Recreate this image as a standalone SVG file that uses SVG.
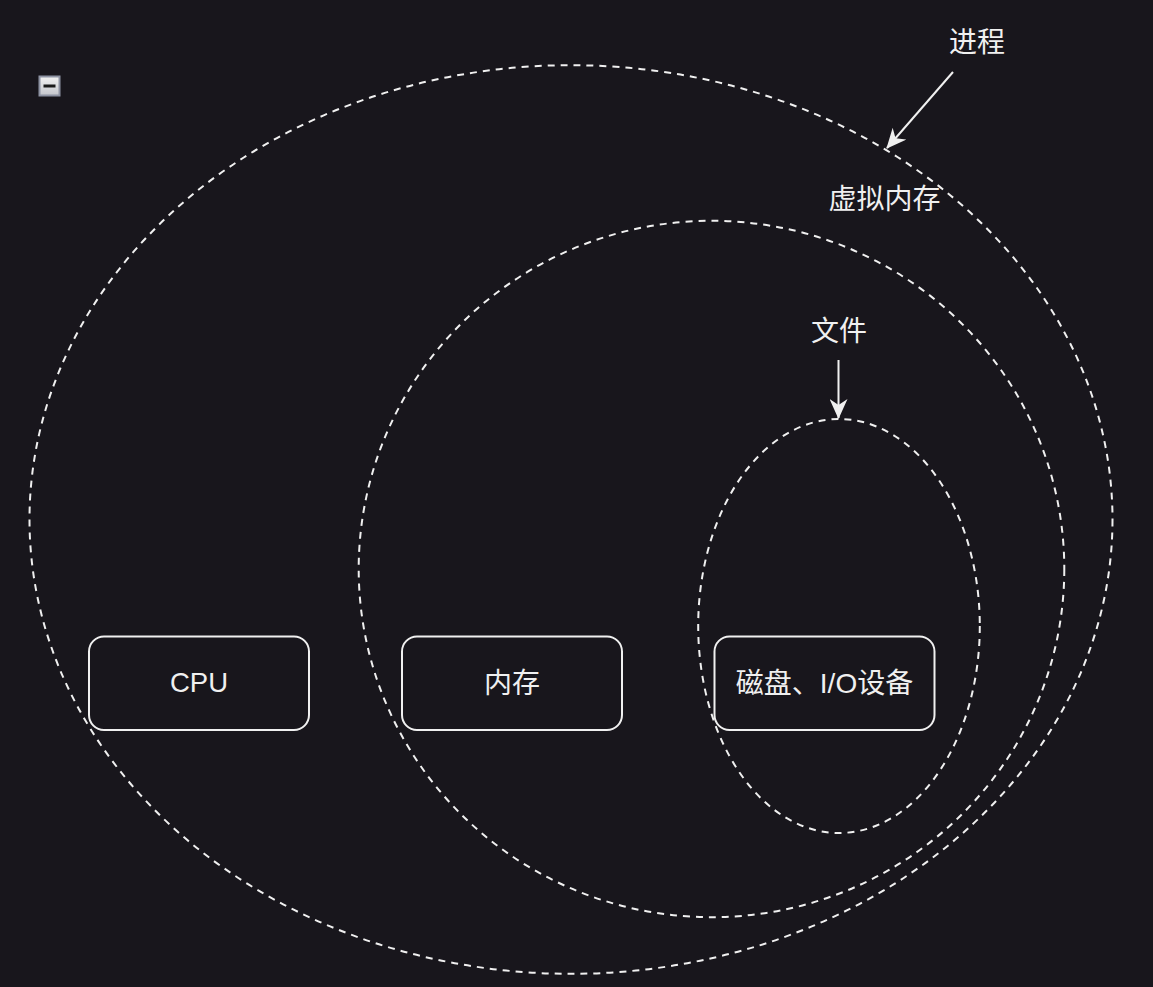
<svg xmlns="http://www.w3.org/2000/svg" width="1153" height="987" viewBox="0 0 1153 987">
  <defs>
    <style>
      .dash { fill: none; stroke: #f0f0f0; stroke-width: 2; stroke-dasharray: 7 6; }
      .box { fill: #18161c; stroke: #f0f0f0; stroke-width: 2; }
      .lbl { fill: #f0f0f0; font-family: "Liberation Sans", "Noto Sans CJK SC", sans-serif; font-size: 28px; text-anchor: middle; }
      .conn { fill: none; stroke: #f0f0f0; stroke-width: 2; }
    </style>
    <marker id="arrow" viewBox="0 0 20 18" refX="19" refY="9" markerWidth="20" markerHeight="18" markerUnits="userSpaceOnUse" orient="auto">
      <path d="M0,0 L20,9 L0,18 L6,9 Z" fill="#f0f0f0"/>
    </marker>
    <linearGradient id="iconGrad" x1="0" y1="0" x2="0" y2="1">
      <stop offset="0" stop-color="#f2f2f2"/>
      <stop offset="1" stop-color="#c4c6cc"/>
    </linearGradient>
  </defs>

  <rect x="0" y="0" width="1153" height="987" fill="#18161c"/>

  <g id="collapse-icon">
    <rect x="39.5" y="76.5" width="20" height="19" fill="url(#iconGrad)" stroke="#8e93a3" stroke-width="2"/>
    <rect x="43.5" y="84.5" width="12" height="3" fill="#1a1a1a"/>
  </g>

  <g id="process">
    <ellipse class="dash" cx="571" cy="519.5" rx="541.5" ry="454.3"/>
    <text class="lbl" x="977" y="52">进程</text>
  </g>

  <g id="virtual-memory">
    <ellipse class="dash" cx="711.5" cy="569" rx="352.8" ry="348.2"/>
    <text class="lbl" x="884.5" y="209">虚拟内存</text>
  </g>

  <g id="file">
    <ellipse class="dash" cx="839" cy="626" rx="140.8" ry="207"/>
    <text class="lbl" x="839" y="341">文件</text>
  </g>

  <g id="cpu">
    <rect class="box" x="89" y="636.5" width="220" height="93.5" rx="15" ry="15"/>
    <text class="lbl" x="199" y="692" style="font-size:27.5px">CPU</text>
  </g>

  <g id="memory">
    <rect class="box" x="402" y="636.5" width="220" height="93.5" rx="15" ry="15"/>
    <text class="lbl" x="512" y="693">内存</text>
  </g>

  <g id="disk-io">
    <rect class="box" x="714.5" y="636.5" width="220" height="93.5" rx="15" ry="15"/>
    <text class="lbl" x="824.5" y="693">磁盘、I/O设备</text>
  </g>

  <g id="connectors">
    <line class="conn" x1="953" y1="72" x2="887" y2="148" marker-end="url(#arrow)"/>
    <line class="conn" x1="838.5" y1="360" x2="838.5" y2="418" marker-end="url(#arrow)"/>
  </g>
</svg>
